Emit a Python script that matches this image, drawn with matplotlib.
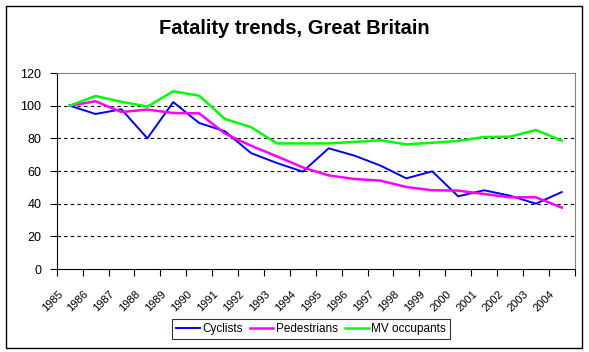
#!/usr/bin/env python3
"""Fatality trends, Great Britain: index 1985 = 100."""

import matplotlib

matplotlib.use("Agg")
import matplotlib.pyplot as plt
import matplotlib.transforms as mtransforms
from matplotlib.patches import Rectangle

plt.rcParams["font.family"] = ["Liberation Sans", "DejaVu Sans"]

YEARS = [str(y) for y in range(1985, 2005)]
CYCLISTS = [100, 94.9, 97.8, 80, 102.2, 89.4, 84.3, 71, 64.9, 59.6,
            73.9, 69.4, 63.3, 55.5, 59.8, 44.5, 48.2, 44.9, 40, 47.1]
PEDESTRIANS = [100, 102.7, 96.1, 97.6, 95.5, 95.3, 82.9, 75.5, 69, 62.2,
               57.3, 55.1, 54.1, 50.2, 48.2, 48, 45.9, 43.9, 43.9, 37.6]
MV_OCCUPANTS = [100, 105.9, 102.4, 99.4, 108.8, 106.1, 91.8, 86.9, 76.9, 76.9,
                76.9, 77.8, 78.8, 76.3, 77.3, 78.4, 80.8, 81, 85.1, 78.6]
Y_TICKS = [0, 20, 40, 60, 80, 100, 120]

W, H = 589, 352


def main() -> None:
    fig = plt.figure(figsize=(W / 100, H / 100), dpi=100)
    fig.patches.append(Rectangle((6 / W, 1 - 348 / H), 576 / W, 342 / H,
                                 transform=fig.transFigure, fill=False,
                                 edgecolor="black", linewidth=1.0))
    ax = fig.add_axes([56.7 / W, 1 - 269 / H, 518 / W, 196 / H])

    x = list(range(len(YEARS)))
    ax.plot(x, CYCLISTS, color="#0000FF", lw=1.4, label="Cyclists", zorder=3)
    ax.plot(x, PEDESTRIANS, color="#FF00FF", lw=1.8, label="Pedestrians", zorder=3)
    ax.plot(x, MV_OCCUPANTS, color="#00FF00", lw=1.8, label="MV occupants", zorder=3)

    ax.set_xlim(-0.5, len(YEARS) - 0.5)
    ax.set_ylim(0, 120)
    ax.set_yticks(Y_TICKS)
    ax.set_yticklabels([str(v) for v in Y_TICKS], fontsize=9)
    for v in Y_TICKS[1:-1]:
        ax.axhline(v, color="black", lw=0.8, ls=(0, (3, 3)), zorder=1)

    ax.set_xticks([i - 0.5 for i in range(len(YEARS) + 1)])
    ax.set_xticklabels([])
    ax.set_xticks(x, minor=True)
    ax.set_xticklabels(YEARS, minor=True, rotation=45, ha="right", fontsize=8)
    ax.tick_params(axis="x", which="minor", length=0, pad=14)
    ax.tick_params(axis="both", which="major", direction="out", length=5,
                   width=0.8, color="black")
    ax.tick_params(axis="y", pad=6)
    shift = mtransforms.ScaledTranslation(-5 / 100, 0, fig.dpi_scale_trans)
    for lab in ax.get_xticklabels(minor=True):
        lab.set_transform(lab.get_transform() + shift)

    for side in ("top", "right"):
        ax.spines[side].set_color("#808080")
    for side in ("left", "bottom"):
        ax.spines[side].set_color("black")

    fig.text(294 / W, 1 - 28 / H, "Fatality trends, Great Britain",
             fontsize=14.5, fontweight="bold", ha="center", va="center")

    leg = fig.legend(loc="center", bbox_to_anchor=(311 / W, 1 - 328.7 / H),
                     ncol=3, fontsize=8.5, frameon=True, fancybox=False,
                     edgecolor="black", handlelength=2.0, handletextpad=0.2,
                     columnspacing=0.6, borderpad=0.35)
    leg.get_frame().set_linewidth(0.8)

    fig.savefig("out.png", dpi=100)
    plt.close(fig)


if __name__ == "__main__":
    main()
